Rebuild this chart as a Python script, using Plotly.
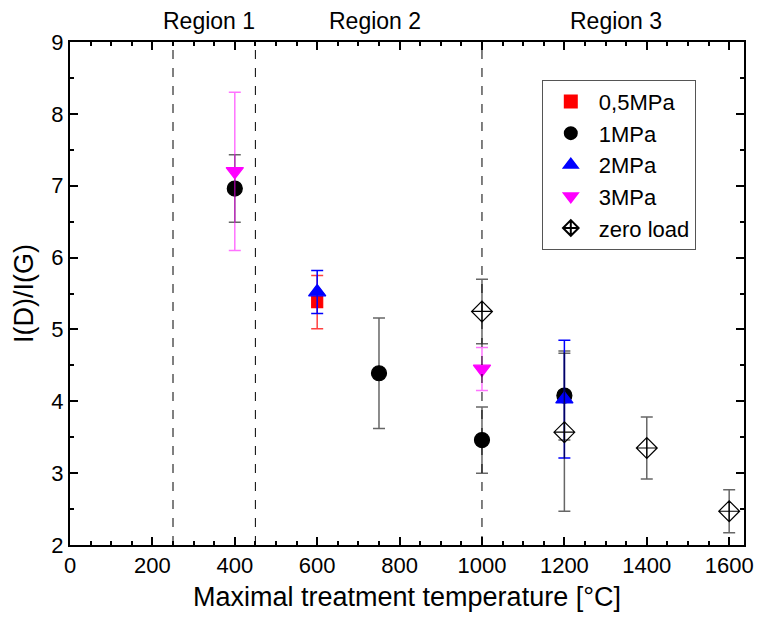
import plotly.graph_objects as go

# Data
x_05 = [600]
y_05 = [5.38]
e_05 = [0.37]

x_1 = [400, 750, 1000, 1200]
y_1 = [6.96, 4.39, 3.46, 4.08]
e_1 = [0.47, 0.77, 0.46, 0.62]

x_2 = [600, 1200]
y_2 = [5.52, 4.03]
e_2 = [0.30, 0.82]

x_3 = [400, 1000]
y_3 = [7.20, 4.45]
e_3 = [1.10, 0.30]

x_0 = [1000, 1200, 1400, 1600]
y_0 = [5.25, 3.57, 3.35, 2.47]
e_0 = [0.45, 1.10, 0.43, 0.30]

region_bounds = [250, 450, 1000]
region_labels = ["Region 1", "Region 2", "Region 3"]
region_label_x = [337, 740, 1325]

FONT = "Liberation Sans, Arial, sans-serif"

fig = go.Figure()

def add(x, y, e, name, symbol, color, ecolor, size):
    fig.add_trace(go.Scatter(
        x=x, y=y, name=name, mode="markers",
        marker=dict(symbol=symbol, color=color, size=size,
                    line=dict(color=color, width=1.2)),
        error_y=dict(type="data", array=e, visible=True,
                     color=ecolor, thickness=1.5, width=6),
    ))

add(x_05, y_05, e_05, "0,5MPa", "square", "#ff0000", "rgba(255,0,0,0.75)", 11)
add(x_1, y_1, e_1, "1MPa", "circle", "#000000", "rgba(0,0,0,0.6)", 15)
add(x_2, y_2, e_2, "2MPa", "triangle-up", "#0000ff", "#0000ff", 15)
add(x_3, y_3, e_3, "3MPa", "triangle-down", "#ff00ff", "rgba(255,0,255,0.55)", 15)
add(x_0, y_0, e_0, "zero load", "diamond-cross-open", "#000000", "rgba(0,0,0,0.6)", 16)

for xb in region_bounds:
    fig.add_shape(type="line", x0=xb, x1=xb, y0=0, y1=1, xref="x", yref="paper",
                  line=dict(color="black", width=1, dash="dash"))

for lx, lt in zip(region_label_x, region_labels):
    fig.add_annotation(x=lx, y=1, xref="x", yref="paper", yanchor="bottom",
                       yshift=6, text=lt, showarrow=False,
                       font=dict(size=23, color="black", family=FONT))

axis_common = dict(
    showgrid=False, zeroline=False, showline=True, linecolor="black", linewidth=2,
    mirror="allticks", ticks="inside", ticklen=8, tickwidth=1.5, tickcolor="black",
    tickfont=dict(size=22, color="black", family=FONT),
)

fig.update_xaxes(range=[0, 1636], tickvals=[0, 200, 400, 600, 800, 1000, 1200, 1400, 1600],
                 minor=dict(dtick=50, tick0=0, ticks="inside", ticklen=4, tickwidth=1.5, tickcolor="black"),
                 title=dict(text="Maximal treatment temperature [°C]", font=dict(size=27, color="black", family=FONT), standoff=10),
                 **axis_common)
fig.update_yaxes(range=[2, 9], dtick=1,
                 minor=dict(dtick=0.5, tick0=2, ticks="inside", ticklen=4, tickwidth=1.5, tickcolor="black"),
                 title=dict(text="I(D)/I(G)", font=dict(size=27, color="black", family=FONT), standoff=10),
                 **axis_common)

fig.update_layout(
    width=764, height=623,
    margin=dict(l=70, r=11, t=42, b=78),
    paper_bgcolor="white", plot_bgcolor="white",
    font=dict(family=FONT, color="black"),
    legend=dict(x=0.70, y=0.925, xanchor="left", yanchor="top",
                bordercolor="#555555", borderwidth=1, bgcolor="white",
                font=dict(size=22, color="black", family=FONT),
                tracegroupgap=0, itemsizing="constant", itemwidth=46),
    showlegend=True,
)

fig.write_html("out.html")
